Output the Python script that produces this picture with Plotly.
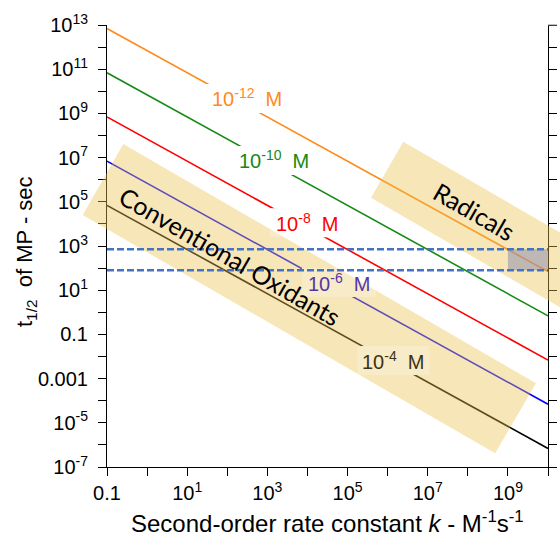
import numpy as np
import plotly.graph_objects as go

# ---------------- data ----------------
k_limits = [0.1, 1e10]  # second-order rate constant range, M^-1 s^-1
conc_names = ["10<sup>-12</sup>  M", "10<sup>-10</sup>  M", "10<sup>-8</sup>  M",
              "10<sup>-6</sup>  M", "10<sup>-4</sup>  M"]
t_half_kmin = [6.9e12, 6.9e10, 6.9e8, 6.9e6, 6.9e4]      # t1/2 (s) at k = 0.1
t_half_kmax = [69, 0.69, 6.9e-3, 6.9e-5, 6.9e-7]          # t1/2 (s) at k = 1e10
line_colors = ["#FF8A1C", "#158A15", "#FF0000", "#0000FF", "#000000"]
label_colors = ["#FF8A1C", "#158A15", "#FF0000", "#5636A6", "#3E3214"]
label_k = [310, 1470, 9750, 6.1e4, 1.4e6]
label_t = [5.0e9, 7.8e6, 1.2e4, 23.5, 6.9e-3]
label_box_halfwidth = [41, 41, 37, 37, 36]   # px

conv_band_k = [0.255, 5.0e9, 4.8e8, 0.0248]
conv_band_t = [4.1e7, 6.2e-4, 4.2e-7, 2.5e4]
rad_band_k = [2.46e6, 2.46e11, 3.85e10, 3.85e5]
rad_band_t = [5.24e7, 289, 0.85, 1.53e5]

target_t = [710, 80]      # dashed lines, s
target_k = [1e9, 1e10]    # grey box k span

band_texts = ["Conventional Oxidants", "Radicals"]
band_text_k = [117, 1.43e8]
band_text_t = [353, 3.84e4]

x_tick_vals = [10.0 ** e for e in range(-1, 11)]
x_tick_text = ["0.1", "", "10<sup>1</sup>", "", "10<sup>3</sup>", "", "10<sup>5</sup>", "",
               "10<sup>7</sup>", "", "10<sup>9</sup>", ""]
y_tick_vals = [10.0 ** e for e in range(-7, 14)]
y_tick_text = ["10<sup>-7</sup>", "", "10<sup>-5</sup>", "", "0.001", "", "0.1", "",
               "10<sup>1</sup>", "", "10<sup>3</sup>", "", "10<sup>5</sup>", "",
               "10<sup>7</sup>", "", "10<sup>9</sup>", "", "10<sup>11</sup>", "", "10<sup>13</sup>"]

# ---------------- geometry ----------------
W, H = 560, 536
ML, MR, MT, MB = 60, 0, 25, 69
PX0, PX1 = 107, 548
PW = W - ML - MR
PH = H - MT - MB
XR = [-1, 10]
YR = [-7, 13]
XD = (XR[1] - XR[0]) / (PX1 - PX0)   # decades per px
YD = (YR[1] - YR[0]) / PH
x_dom = [(PX0 - ML) / PW, (PX1 - ML) / PW]
x2_range = [XR[0] - (PX0 - ML) * XD, XR[1] + (W - MR - PX1) * XD]

FONT = "Liberation Sans, Arial, sans-serif"
BAND_FILL = "rgba(235,192,77,0.40)"

fig = go.Figure()

# concentration lines
for i in range(len(conc_names)):
    fig.add_trace(go.Scatter(x=k_limits, y=[t_half_kmin[i], t_half_kmax[i]], mode="lines",
                             line=dict(color=line_colors[i], width=1.6),
                             xaxis="x", yaxis="y", hoverinfo="skip", showlegend=False))

# opaque label boxes that interrupt the lines
def box_xy(i, pad_top=14, pad_bot=15):
    cx, cy = np.log10(label_k[i]), np.log10(label_t[i])
    hw = label_box_halfwidth[i]
    x0, x1 = 10 ** (cx - hw * XD), 10 ** (cx + hw * XD)
    y0, y1 = 10 ** (cy - pad_bot * YD), 10 ** (cy + pad_top * YD)
    return [x0, x1, x1, x0, x0], [y0, y0, y1, y1, y0]

for i in range(len(conc_names)):
    bx, by = box_xy(i)
    fig.add_trace(go.Scatter(x=bx, y=by, mode="lines", fill="toself", fillcolor="white",
                             line=dict(width=0), xaxis="x", yaxis="y",
                             hoverinfo="skip", showlegend=False))

# bands (on wide invisible axis so they are not clipped to the frame)
for bk, bt in [(conv_band_k, conv_band_t), (rad_band_k, rad_band_t)]:
    fig.add_trace(go.Scatter(x=bk + [bk[0]], y=bt + [bt[0]], mode="lines", fill="toself",
                             fillcolor=BAND_FILL, line=dict(width=0),
                             xaxis="x2", yaxis="y", hoverinfo="skip", showlegend=False))

# faint lighter label boxes on top of bands
for i in range(len(conc_names)):
    bx, by = box_xy(i)
    fig.add_trace(go.Scatter(x=bx, y=by, mode="lines", fill="toself",
                             fillcolor="rgba(255,255,255,0.22)",
                             line=dict(width=0), xaxis="x2", yaxis="y",
                             hoverinfo="skip", showlegend=False))

# grey target box
fig.add_trace(go.Scatter(x=[target_k[0], target_k[1], target_k[1], target_k[0], target_k[0]],
                         y=[target_t[1], target_t[1], target_t[0], target_t[0], target_t[1]],
                         mode="lines", fill="toself", fillcolor="rgba(135,135,175,0.5)",
                         line=dict(width=0), xaxis="x2", yaxis="y",
                         hoverinfo="skip", showlegend=False))

# dashed target lines
for tv in target_t:
    fig.add_trace(go.Scatter(x=k_limits, y=[tv, tv], mode="lines",
                             line=dict(color="#4472C4", width=2.4, dash="7px,3px"),
                             xaxis="x2", yaxis="y", hoverinfo="skip", showlegend=False))

annotations = []
for i in range(len(conc_names)):
    annotations.append(dict(x=np.log10(label_k[i]), y=np.log10(label_t[i]), xref="x", yref="y",
                            text=conc_names[i], showarrow=False, xanchor="center", yanchor="middle",
                            font=dict(family=FONT, size=20, color=label_colors[i])))
for txt, tk, tt in zip(band_texts, band_text_k, band_text_t):
    annotations.append(dict(x=np.log10(tk), y=np.log10(tt), xref="x", yref="y", text=txt,
                            showarrow=False, textangle=30, xanchor="center", yanchor="middle",
                            font=dict(family="Lato, sans-serif", size=25, color="black")))
# axis titles
annotations.append(dict(x=(327.5 - ML) / PW, y=1 - (522 - MT) / PH, xref="paper", yref="paper",
                        text="Second-order rate constant <i>k</i> - M<sup>-1</sup>s<sup>-1</sup>",
                        showarrow=False, xanchor="center", yanchor="middle",
                        font=dict(family=FONT, size=24, color="black")))
annotations.append(dict(x=(26 - ML) / PW, y=1 - (252 - MT) / PH, xref="paper", yref="paper",
                        text="t<sub>1/2</sub>  of MP - sec", textangle=-90,
                        showarrow=False, xanchor="center", yanchor="middle",
                        font=dict(family=FONT, size=22, color="black")))

axis_common = dict(type="log", showgrid=False, zeroline=False, ticks="outside", ticklen=8,
                   tickwidth=1, showline=True, linewidth=1)

fig.update_layout(
    width=W, height=H, margin=dict(l=ML, r=MR, t=MT, b=MB),
    paper_bgcolor="white", plot_bgcolor="rgba(0,0,0,0)", showlegend=False,
    xaxis=dict(**axis_common, range=XR, domain=x_dom, anchor="y", linecolor="black",
               tickcolor="black", tickvals=x_tick_vals, ticktext=x_tick_text,
               tickfont=dict(family=FONT, size=20, color="black")),
    xaxis2=dict(type="log", range=x2_range, domain=[0, 1], anchor="y", visible=False),
    xaxis3=dict(**axis_common, range=XR, overlaying="x", side="top", anchor="y",
                linecolor="#808080", tickcolor="#808080", tickvals=x_tick_vals,
                showticklabels=False),
    yaxis=dict(**axis_common, range=YR, domain=[0, 1], anchor="x", linecolor="black",
               tickcolor="black", mirror="ticks", tickvals=y_tick_vals, ticktext=y_tick_text,
               ticklabelstandoff=6,
               tickfont=dict(family=FONT, size=20, color="black")),
    annotations=annotations,
    shapes=[dict(type="line", xref="paper", yref="paper", x0=x_dom[1], x1=(557 - ML) / PW,
                 y0=1, y1=1, line=dict(color="#808080", width=1))],
)

fig.write_html("out.html")
